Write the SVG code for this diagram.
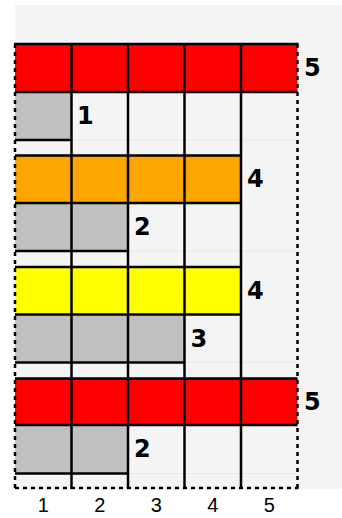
<svg xmlns="http://www.w3.org/2000/svg" width="342" height="518" viewBox="0 0 342 518">
<style>
.bg{fill:#f4f4f4}
.red{fill:#ff0000}
.orange{fill:#ffa500}
.yellow{fill:#ffff00}
.gray{fill:#c0c0c0}
.ln{stroke:#000;stroke-width:2.5;fill:none}
.faint{stroke:#e8e8e8;stroke-width:1;fill:none}
.dash{stroke:#000;stroke-width:2.5;fill:none;stroke-dasharray:4 4}
.lbl{font-family:"DejaVu Sans",Verdana,sans-serif;font-weight:bold;font-size:24px;fill:#000}
.axis{font-family:"Liberation Sans",Arial,sans-serif;font-size:20px;fill:#000;text-anchor:middle}
</style>
<rect class="bg" x="15" y="5" width="327" height="484"/>
<g id="block1">
<rect class="red" x="15" y="44" width="282.5" height="48"/>
<rect class="gray" x="15" y="92" width="56.5" height="48"/>
<line class="faint" x1="71.5" y1="140" x2="297.5" y2="140"/>
<line class="ln" x1="14" y1="44" x2="298.5" y2="44"/>
<line class="ln" x1="15" y1="92" x2="297.5" y2="92"/>
<line class="ln" x1="15" y1="140" x2="71.5" y2="140"/>
<text class="lbl" x="304" y="76">5</text>
<text class="lbl" x="77" y="124">1</text>
</g>
<g id="block2">
<rect class="orange" x="15" y="155.5" width="226" height="47.5"/>
<rect class="gray" x="15" y="203" width="113" height="48"/>
<line class="faint" x1="128" y1="251" x2="297.5" y2="251"/>
<line class="ln" x1="15" y1="155.5" x2="241" y2="155.5"/>
<line class="ln" x1="15" y1="203" x2="241" y2="203"/>
<line class="ln" x1="15" y1="251" x2="128" y2="251"/>
<text class="lbl" x="247" y="187">4</text>
<text class="lbl" x="134" y="235">2</text>
</g>
<g id="block3">
<rect class="yellow" x="15" y="267" width="226" height="47.5"/>
<rect class="gray" x="15" y="314.5" width="169.5" height="48"/>
<line class="faint" x1="184.5" y1="362.5" x2="297.5" y2="362.5"/>
<line class="ln" x1="15" y1="267" x2="241" y2="267"/>
<line class="ln" x1="15" y1="314.5" x2="241" y2="314.5"/>
<line class="ln" x1="15" y1="362.5" x2="184.5" y2="362.5"/>
<text class="lbl" x="247" y="298.5">4</text>
<text class="lbl" x="190.5" y="346.5">3</text>
</g>
<g id="block4">
<rect class="red" x="15" y="378.5" width="282.5" height="46.5"/>
<rect class="gray" x="15" y="425" width="113" height="48.5"/>
<line class="faint" x1="128" y1="473.5" x2="297.5" y2="473.5"/>
<line class="ln" x1="15" y1="378.5" x2="297.5" y2="378.5"/>
<line class="ln" x1="15" y1="425" x2="297.5" y2="425"/>
<line class="ln" x1="15" y1="473.5" x2="128" y2="473.5"/>
<text class="lbl" x="304" y="410">5</text>
<text class="lbl" x="134" y="457">2</text>
</g>
<g id="grid">
<line class="ln" x1="71.5" y1="44" x2="71.5" y2="489"/>
<line class="ln" x1="128" y1="44" x2="128" y2="489"/>
<line class="ln" x1="184.5" y1="44" x2="184.5" y2="489"/>
<line class="ln" x1="241" y1="44" x2="241" y2="489"/>
<line class="dash" x1="15" y1="44" x2="15" y2="488"/>
<line class="dash" x1="297.5" y1="44" x2="297.5" y2="488"/>
<line class="dash" x1="15" y1="488" x2="298.5" y2="488"/>
</g>
<g id="axis">
<text class="axis" x="43.25" y="512">1</text>
<text class="axis" x="99.75" y="512">2</text>
<text class="axis" x="156.25" y="512">3</text>
<text class="axis" x="212.75" y="512">4</text>
<text class="axis" x="269.25" y="512">5</text>
</g>
</svg>
